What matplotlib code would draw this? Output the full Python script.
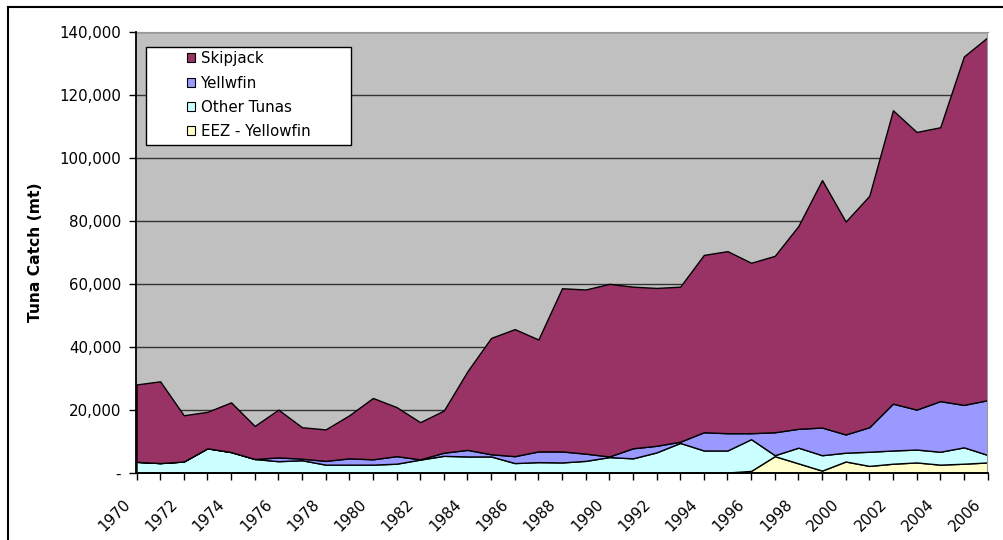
import numpy as np
import matplotlib
matplotlib.use('Agg')
import matplotlib.pyplot as plt
from matplotlib.patches import Patch, Rectangle
from matplotlib.lines import Line2D
from matplotlib.ticker import FuncFormatter, MultipleLocator
from matplotlib.transforms import ScaledTranslation

years = list(range(1970, 2007))

# catch by species, tonnes
eez_yellowfin = [0, 0, 0, 0, 0, 0, 0, 0, 0, 0,
                 0, 0, 0, 0, 0, 0, 0, 0, 0, 0,
                 0, 0, 0, 0, 0, 0, 500, 5200, 2900, 600,
                 3500, 2100, 2800, 3200, 2500, 2800, 3200]
other_tunas = [3400, 3000, 3500, 7700, 6500, 4300, 3600, 3900, 2500, 2500,
               2500, 2800, 4100, 5300, 5100, 5100, 3000, 3300, 3200, 3700,
               4900, 4500, 6400, 9400, 7000, 7000, 10100, 300, 5000, 4900,
               2800, 4500, 4200, 4100, 4100, 5200, 2400]
yellowfin = [0, 0, 0, 0, 0, 0, 1200, 500, 1200, 2000,
             1700, 2400, 100, 1000, 2100, 700, 2200, 3400, 3500, 2300,
             200, 3200, 2100, 400, 5800, 5500, 1900, 7300, 6000, 8800,
             5800, 7800, 14900, 12700, 16100, 13500, 17400]
skipjack = [24600, 26000, 14700, 11600, 15800, 10500, 15200, 10000, 10000, 13700,
            19500, 15600, 11800, 13400, 25000, 37000, 40400, 35600, 51900, 52200,
            54900, 51400, 50200, 49300, 56400, 57900, 54200, 56100, 64500, 78700,
            67700, 73600, 93300, 88300, 87100, 110800, 115400]

labels = ['EEZ - Yellowfin', 'Other Tunas', 'Yellwfin', 'Skipjack']
colors = ['#FFFFCC', '#CCFFFF', '#9999FF', '#993366']

fs = 10.8

fig = plt.figure(figsize=(10.04, 5.40), dpi=100)
ax = fig.add_axes([136.5 / 1004, 1 - 472.5 / 540, 851 / 1004, 440.2 / 540])
ax.set_facecolor('#C0C0C0')

ax.stackplot(years, eez_yellowfin, other_tunas, yellowfin, skipjack,
             colors=colors, labels=labels, edgecolor='black', linewidth=1.0)

ax.set_xlim(1970, 2006)
ax.set_ylim(0, 140000)
ax.yaxis.set_major_locator(MultipleLocator(20000))
ax.yaxis.set_major_formatter(FuncFormatter(lambda v, p: '-' if v == 0 else f'{v:,.0f}'))
ax.set_xticks(years)
ax.set_xticklabels([str(y) if y % 2 == 0 else '' for y in years],
                   rotation=45, ha='right', rotation_mode='anchor')
ax.tick_params(axis='both', direction='out', length=5, width=1, labelsize=fs,
               colors='black')
ax.tick_params(axis='x', pad=6)
ax.tick_params(axis='y', pad=6)

# nudge the slanted year labels down and to the left
shift = ScaledTranslation(-0.14, -0.09, fig.dpi_scale_trans)
for lab in ax.get_xticklabels():
    lab.set_transform(lab.get_transform() + shift)

ax.set_axisbelow(True)
ax.grid(axis='y', color='#333333', linewidth=1.0)
ax.grid(axis='x', visible=False)

for side in ['left', 'bottom']:
    ax.spines[side].set_color('black')
    ax.spines[side].set_linewidth(1.3)
for side in ['top', 'right']:
    ax.spines[side].set_color('#999999')
    ax.spines[side].set_linewidth(0.8)

ax.set_ylabel('Tuna Catch (mt)', fontsize=11.2, fontweight='bold')
ax.yaxis.set_label_coords(-0.110, 0.5)

# legend box, drawn the Excel way with the entries pushed to the right
ax.add_patch(Rectangle((0.0112, 0.744), 0.2408, 0.2226, transform=ax.transAxes,
                       facecolor='white', edgecolor='black', linewidth=1.0,
                       zorder=5))
handles = [Patch(facecolor=c, edgecolor='black', linewidth=0.8)
           for c in colors[::-1]]
leg = ax.legend(handles, labels[::-1], loc='upper left',
                bbox_to_anchor=(0.0590, 0.957), frameon=False, fontsize=fs,
                borderpad=0, borderaxespad=0, handlelength=0.55,
                handleheight=0.55, handletextpad=0.4, labelspacing=0.62)
leg.set_zorder(6)

# outer chart frame
fig.add_artist(Line2D([8 / 1004, 8 / 1004], [0, 1 - 7 / 540],
                      transform=fig.transFigure, color='black', linewidth=1.5))
fig.add_artist(Line2D([8 / 1004, 1], [1 - 7 / 540, 1 - 7 / 540],
                      transform=fig.transFigure, color='black', linewidth=1.5))

fig.savefig('out.png', dpi=100)
